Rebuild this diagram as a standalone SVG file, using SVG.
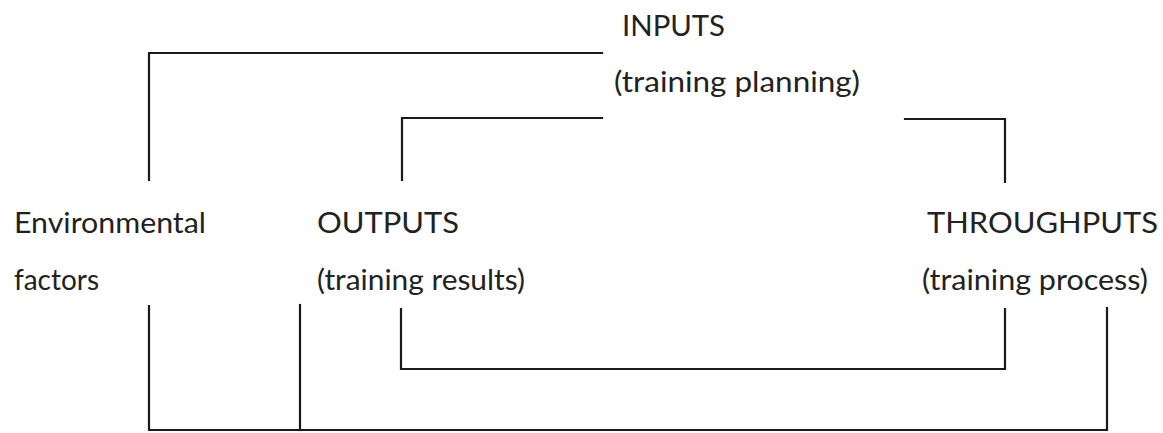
<svg xmlns="http://www.w3.org/2000/svg" width="1163" height="433" viewBox="0 0 1163 433">
<style>
.t{font-family:Lato,"Open Sans","Liberation Sans",sans-serif;font-size:29.5px;fill:#222}
.c{fill:none;stroke:#1a1a1a;stroke-width:2.2;stroke-linecap:square;stroke-linejoin:miter}
</style>
<rect width="1163" height="433" fill="#fff"/>
<g id="connectors">
<polyline class="c" points="149,180 149,53 602,53"/>
<polyline class="c" points="402,180 402,118 602,118"/>
<polyline class="c" points="905,119 1005,119 1005,182"/>
<polyline class="c" points="401,309 401,369 1005,369 1005,309"/>
<polyline class="c" points="149,306 149,430 1107,430 1107,308"/>
<line class="c" x1="300" y1="305" x2="300" y2="430"/>
</g>
<g id="inputs">
<text class="t" x="622" y="36" textLength="103" lengthAdjust="spacingAndGlyphs">INPUTS</text>
<text class="t" x="614" y="92" textLength="246" lengthAdjust="spacingAndGlyphs">(training planning)</text>
</g>
<g id="environmental">
<text class="t" x="14" y="233" textLength="192" lengthAdjust="spacingAndGlyphs">Environmental</text>
<text class="t" x="14" y="290" textLength="85" lengthAdjust="spacingAndGlyphs">factors</text>
</g>
<g id="outputs">
<text class="t" x="317" y="233" textLength="142" lengthAdjust="spacingAndGlyphs">OUTPUTS</text>
<text class="t" x="317" y="290" textLength="208" lengthAdjust="spacingAndGlyphs">(training results)</text>
</g>
<g id="throughputs">
<text class="t" x="927" y="233" textLength="231" lengthAdjust="spacingAndGlyphs">THROUGHPUTS</text>
<text class="t" x="922" y="290" textLength="226" lengthAdjust="spacingAndGlyphs">(training process)</text>
</g>
</svg>
